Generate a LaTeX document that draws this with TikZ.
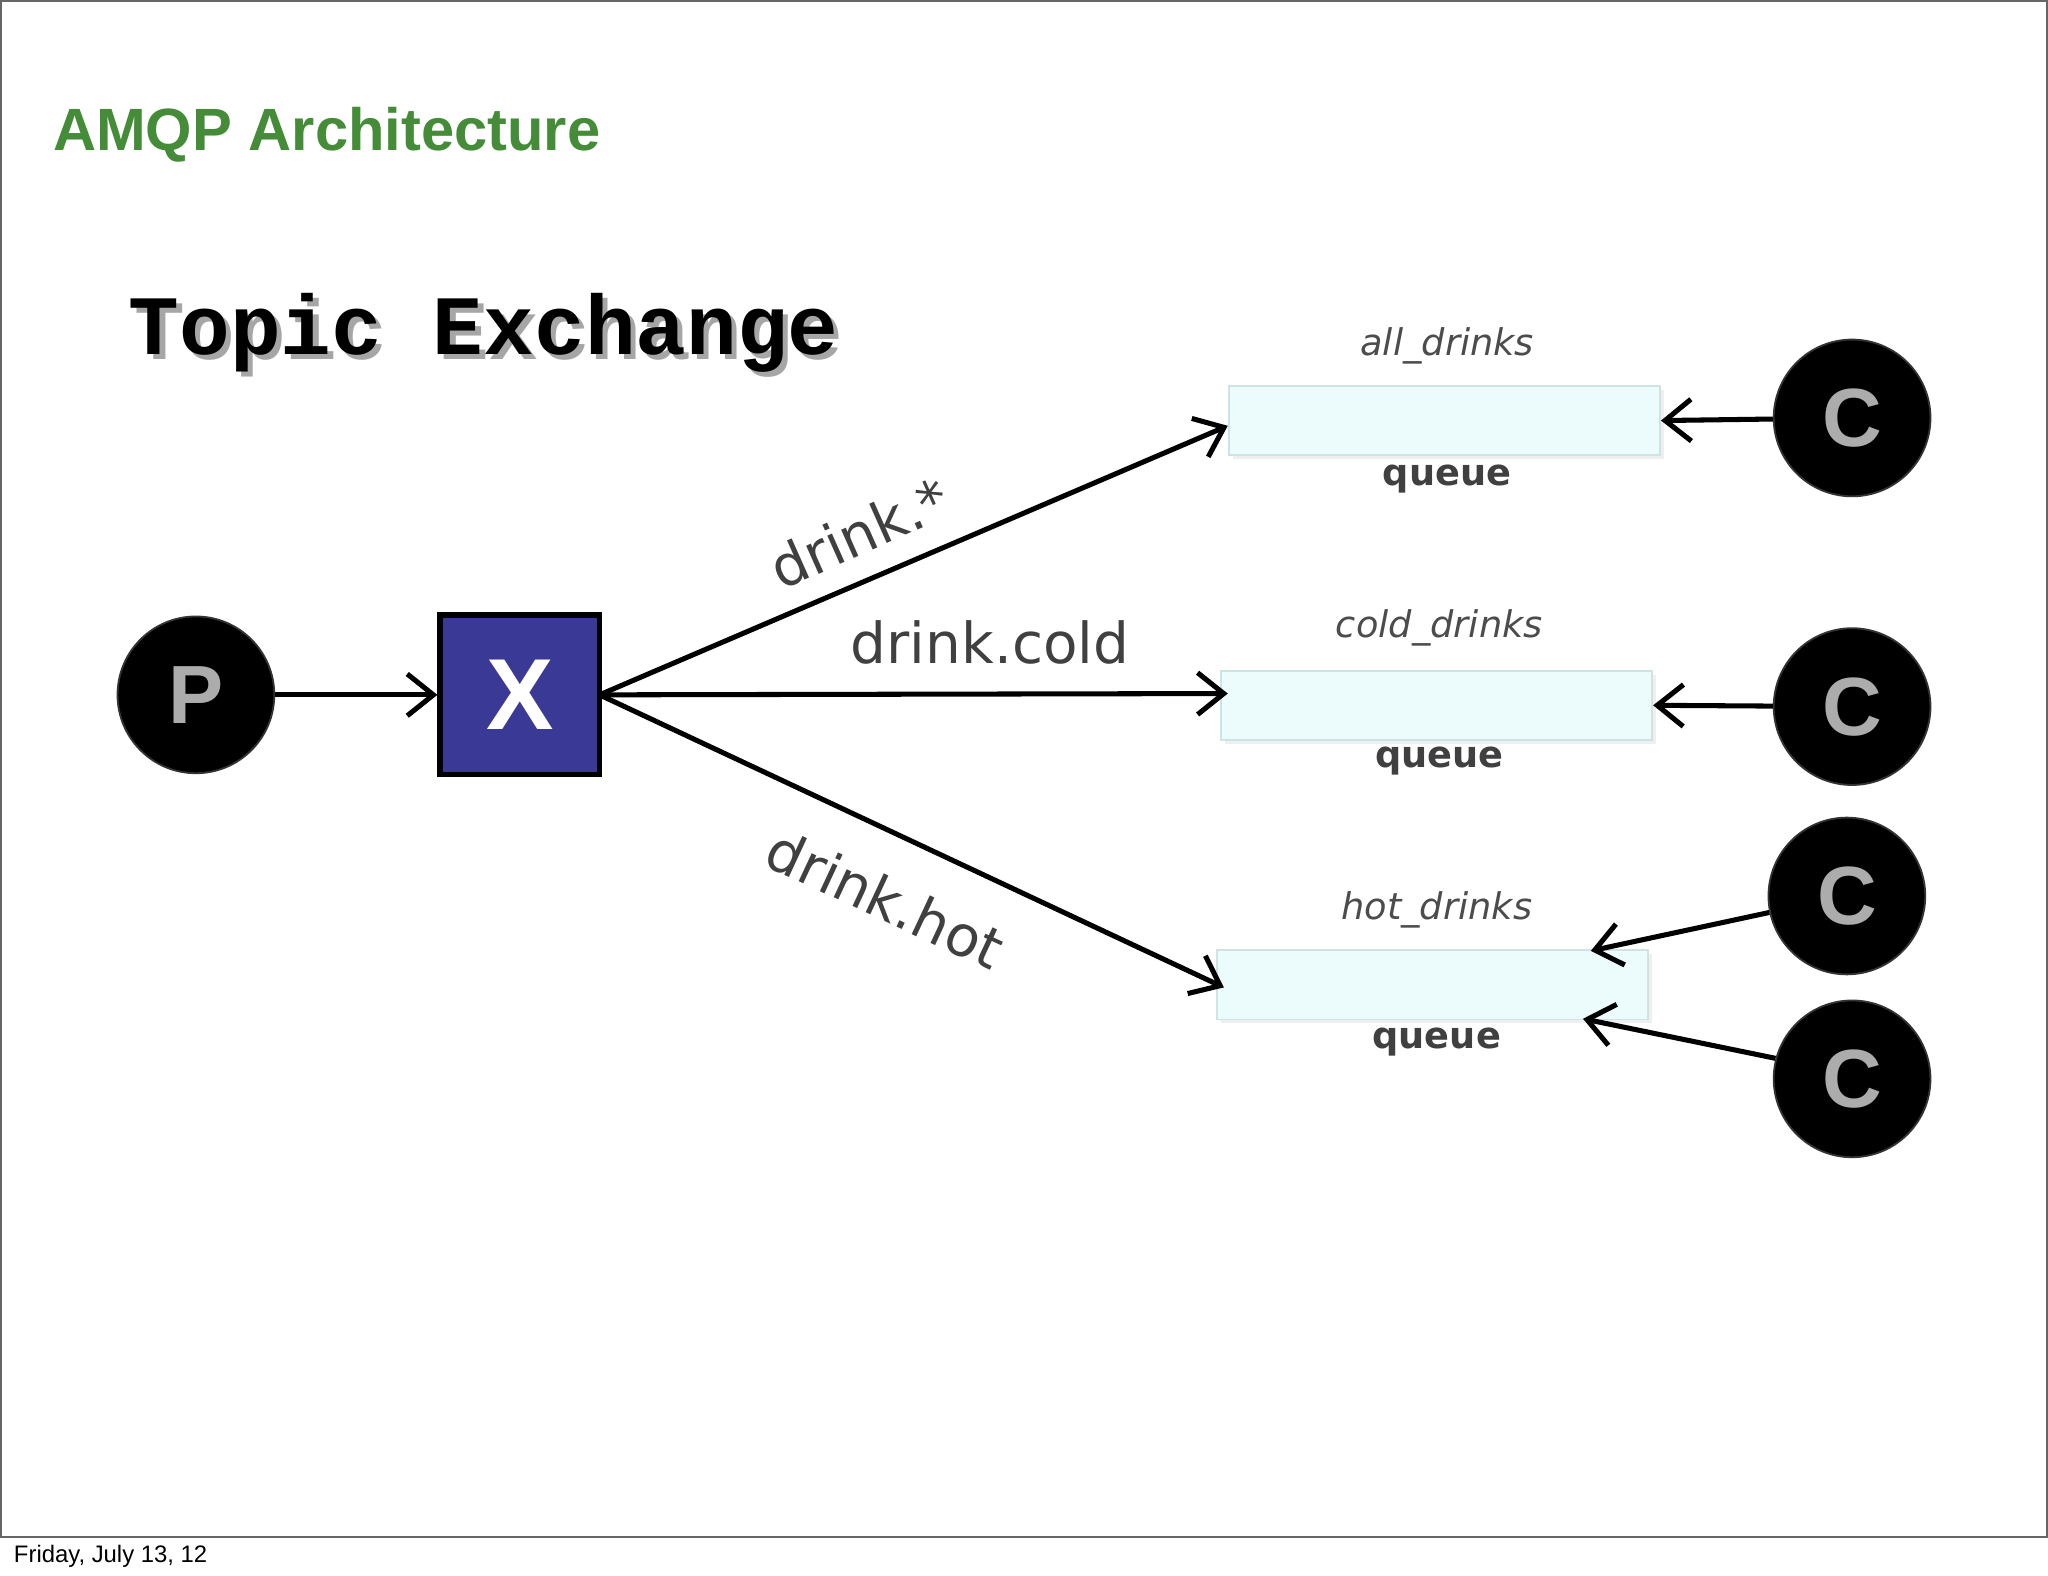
\documentclass[tikz,border=0pt]{standalone}
\usepackage{fontspec}
\setmainfont{DejaVu Sans}
\newfontfamily\lib{Liberation Sans}
\newfontfamily\mono{Liberation Mono}
\usetikzlibrary{arrows.meta,shadows}
\definecolor{ttl}{RGB}{68,140,56}
\definecolor{xblue}{RGB}{58,58,150}
\definecolor{qfill}{RGB}{236,252,252}
\definecolor{qedge}{RGB}{205,228,228}
\begin{document}
\begin{tikzpicture}[x=0.1mm,y=-0.1mm,
  circ/.style={circle,fill=black,draw=black!80,minimum size=12mm,inner sep=0,text=gray!65,font=\lib\bfseries\fontsize{18}{18}\selectfont},
  q/.style={draw=qedge,fill=qfill,minimum width=33mm,minimum height=5.3mm,inner sep=0,drop shadow={opacity=0.12,shadow xshift=0.3mm,shadow yshift=-0.3mm}},
  qname/.style={text=black!70,font=\itshape\fontsize{8}{10}\selectfont},
  qlab/.style={text=black!75,font=\bfseries\fontsize{8}{10}\selectfont},
  arr/.style={-{Straight Barb[length=2mm,width=3.2mm]},line width=1.1pt},
  elab/.style={text=black!75,font=\fontsize{12.3}{14}\selectfont}]
\useasboundingbox (0,0) rectangle (1568,1206);
\fill[white] (0,0) rectangle (1568,1206);
\draw[black!60,line width=0.4pt] (0.5,0.5) rectangle (1567,1177);
\node[anchor=base west,inner sep=0,text=black,font=\lib\fontsize{5.2}{6}\selectfont] (foot) at (10,1196) {Friday, July 13, 12};
\node[anchor=base west,text=ttl,font=\lib\bfseries\fontsize{13}{16}\selectfont,inner sep=0] (title) at (40,115) {AMQP Architecture};
\node[anchor=west,text=black!35,font=\mono\bfseries\fontsize{18.4}{20}\selectfont,inner sep=0] (tes) at (102,259) {Topic Exchange};
\node[anchor=west,font=\mono\bfseries\fontsize{18.4}{20}\selectfont,inner sep=0] (te) at (98,255) {Topic Exchange};
\node[circ] (P) at (150,532) {P};
\node[draw=black,line width=1.2pt,fill=xblue,minimum size=12.2mm,inner sep=0,text=white,font=\lib\bfseries\fontsize{22}{22}\selectfont] (X) at (398,532) {X};
\node[q] (q1) at (1106,322) {};
\node[q] (q2) at (1100,540) {};
\node[q] (q3) at (1097,754) {};
\node[qname] (n1) at (1108,265) {all\_drinks};
\node[qname] (n2) at (1102,481) {cold\_drinks};
\node[qname] (n3) at (1100,697) {hot\_drinks};
\node[qlab] (l1) at (1108,367) {queue};
\node[qlab] (l2) at (1102,583) {queue};
\node[qlab] (l3) at (1100,798) {queue};
\node[circ] (C1) at (1418,320) {C};
\node[circ] (C2) at (1418,541) {C};
\node[circ] (C3) at (1414,686) {C};
\node[circ] (C4) at (1418,826) {C};
\coordinate (xe) at (459,532);
\coordinate (a1) at (940,326);
\coordinate (a2) at (940,531);
\coordinate (a3) at (937,756);
\coordinate (h1) at (1218,728);
\coordinate (h2) at (1212,780);
\draw[arr] (P) -- (X);
\draw[arr] (xe) -- (a1);
\draw[arr] (xe) -- (a2);
\draw[arr] (xe) -- (a3);
\draw[arr] (C1) -- (q1.east);
\draw[arr] (C2) -- (q2.east);
\draw[arr] (C3.192) -- (h1);
\draw[arr] (C4.165) -- (h2);
\node[elab,rotate=24] (e1) at (658,408) {drink.*};
\node[elab] (e2) at (758,492) {drink.cold};
\node[elab,rotate=-25] (e3) at (678,688) {drink.hot};
\end{tikzpicture}
\end{document}
